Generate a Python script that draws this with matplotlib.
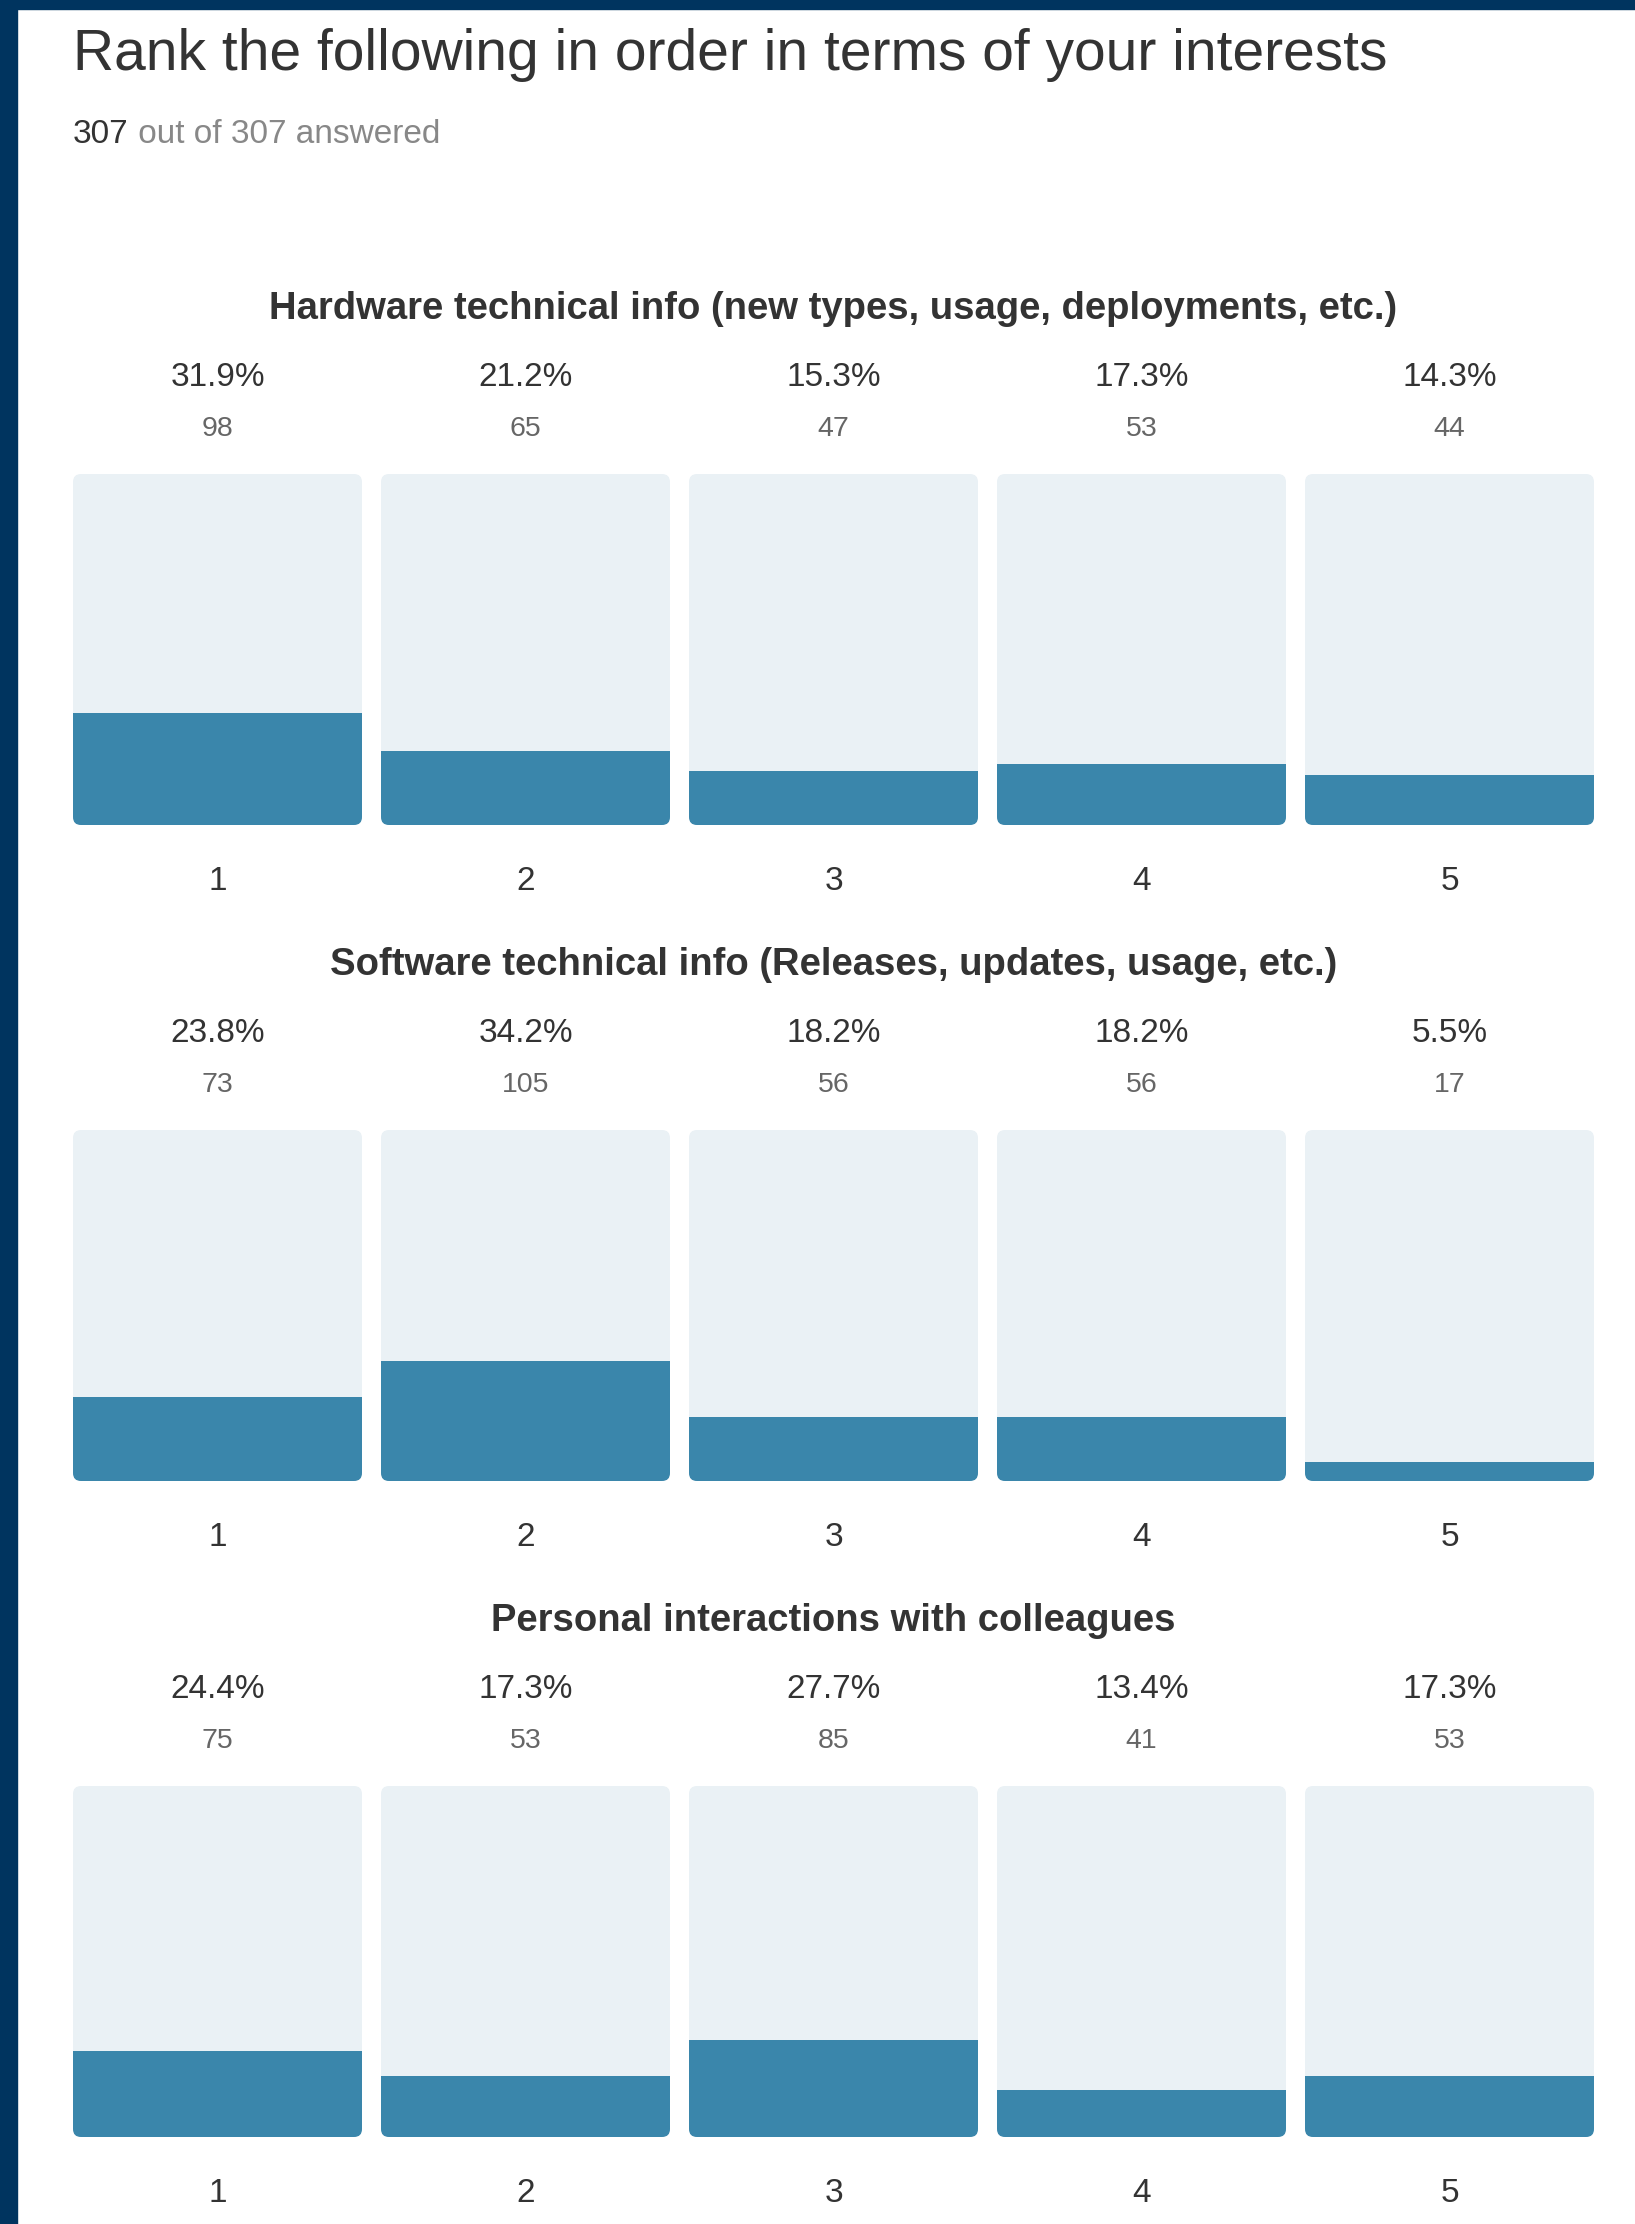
import numpy as np
import matplotlib
matplotlib.use("Agg")
import matplotlib.pyplot as plt
from matplotlib.patches import FancyBboxPatch, Rectangle

plt.rcParams['font.family'] = ['Liberation Sans', 'DejaVu Sans']

W, H = 1635, 2224

title = "Rank the following in order in terms of your interests"
answered = 307
total = 307
ranks = ["1", "2", "3", "4", "5"]
sections = [
    "Hardware technical info (new types, usage, deployments, etc.)",
    "Software technical info (Releases, updates, usage, etc.)",
    "Personal interactions with colleagues",
]
pcts = [
    [31.9, 21.2, 15.3, 17.3, 14.3],
    [23.8, 34.2, 18.2, 18.2, 5.5],
    [24.4, 17.3, 27.7, 13.4, 17.3],
]
counts = [
    [98, 65, 47, 53, 44],
    [73, 105, 56, 56, 17],
    [75, 53, 85, 41, 53],
]

navy = "#00345f"
bg_col = "#eaf1f5"
fill_col = "#3a86ab"
dark = "#333333"
grey = "#888888"

fig = plt.figure(figsize=(W / 100, H / 100), dpi=100)
fig.patch.set_facecolor("white")

def fx(px):
    return px / W

def fy(py):
    return 1 - py / H

# frame strips on the left and top
fig.patches.append(Rectangle((0, 0), fx(17), 1, transform=fig.transFigure,
                             color=navy, zorder=0))
fig.patches.append(Rectangle((0, fy(9)), 1, 1, transform=fig.transFigure,
                             color=navy, zorder=0))

fig.text(fx(73), fy(70), title, fontsize=41, color=dark, va="baseline")
t1 = fig.text(fx(73), fy(143), str(answered), fontsize=24, color=dark, va="baseline")
fig.canvas.draw()
bb = t1.get_window_extent()
fig.text((bb.x1) / W, fy(143), " out of %d answered" % total, fontsize=24,
         color=grey, va="baseline")

left, right = 73, 1594
step = 656
bar_w = 289 / 308.0
x = np.arange(len(ranks))

for i, name in enumerate(sections):
    off = i * step
    top, bot = 474 + off, 825 + off
    ax = fig.add_axes([fx(left), fy(bot), (right - left) / W, (bot - top) / H])
    ax.set_xlim(-bar_w / 2, len(ranks) - 1 + bar_w / 2)
    ax.set_ylim(0, 100)
    ax.axis("off")
    # pixels per data unit, so the rounded corners stay circular
    aspect = (308.0) / ((bot - top) / 100.0)
    r = 8 / 308.0
    fills = ax.bar(x, pcts[i], width=bar_w, color=fill_col, zorder=2)
    for j in range(len(ranks)):
        bgp = FancyBboxPatch((x[j] - bar_w / 2, 0), bar_w, 100,
                             boxstyle="round,pad=0,rounding_size=%f" % r,
                             mutation_aspect=aspect, facecolor=bg_col,
                             edgecolor="none", zorder=1)
        ax.add_patch(bgp)
        fills[j].set_clip_path(bgp)

    centre = (left + right) / 2
    fig.text(fx(centre), fy(319 + off), name, fontsize=27.5, fontweight="bold",
             color=dark, ha="center", va="baseline")
    for j in range(len(ranks)):
        cx = left + (x[j] + bar_w / 2) * 308.0
        fig.text(fx(cx), fy(386 + off), "%.1f%%" % pcts[i][j], fontsize=24,
                 color=dark, ha="center", va="baseline")
        fig.text(fx(cx), fy(436 + off), str(counts[i][j]), fontsize=20.5,
                 color="#666666", ha="center", va="baseline")
        fig.text(fx(cx), fy(890 + off), ranks[j], fontsize=24,
                 color=dark, ha="center", va="baseline")

fig.savefig("out.png", dpi=100, facecolor="white")
